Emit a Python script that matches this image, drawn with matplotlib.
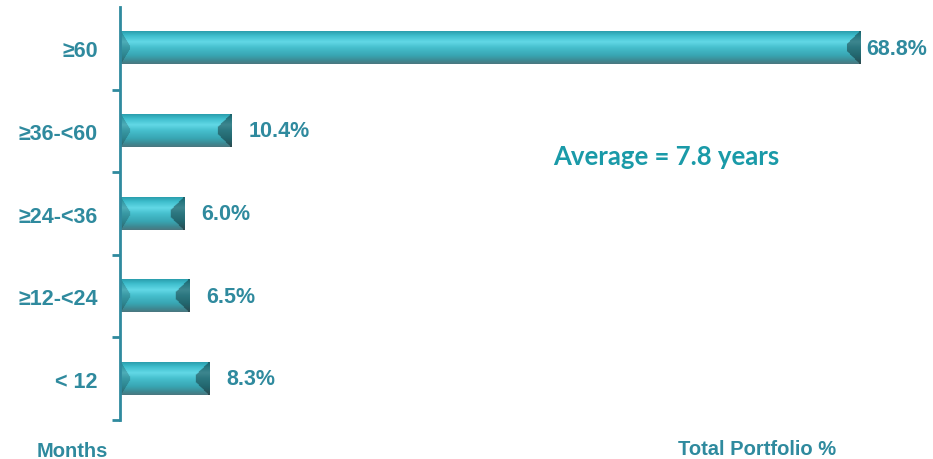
import numpy as np
import matplotlib
matplotlib.use("Agg")
import matplotlib.pyplot as plt
from matplotlib.colors import to_rgb

categories = ["≥60", "≥36-<60", "≥24-<36", "≥12-<24", "< 12"]
values = [68.8, 10.4, 6.0, 6.5, 8.3]
value_labels = ["68.8%", "10.4%", "6.0%", "6.5%", "8.3%"]
avg_text = "Average = 7.8 years"
x_title = "Total Portfolio %"
y_title = "Months"

TEXT = "#2f8a9e"
AVG = "#1a9aa8"

W, H = 933, 460
fig = plt.figure(figsize=(W / 100, H / 100), dpi=100)
left_px, right_px, top_px, bot_px = 120, 900, 8, 421
ax = fig.add_axes([left_px / W, 1 - bot_px / H, (right_px - left_px) / W, (bot_px - top_px) / H])
px_per_unit = 10.76

bar_h = 0.39
y = np.arange(len(categories))

# vertical colour profile (top -> bottom)
stops = [(0.0, "#2b9fae"), (0.12, "#3cbccb"), (0.32, "#62d8e6"), (0.5, "#46bfcd"),
         (0.75, "#38a5b2"), (0.9, "#3d8a94"), (1.0, "#4a7880")]

def profile(t):
    cs = np.array([to_rgb(c) for _, c in stops])
    ps = np.array([p for p, _ in stops])
    return np.stack([np.interp(t, ps, cs[:, k]) for k in range(3)], axis=-1)

ny = 40
vmax = max(values)
for yi, v, lab in zip(y, values, value_labels):
    wpx = int(v * px_per_unit)
    hpx = 32
    nx = max(wpx, 2)
    tt = np.linspace(0, 1, ny)
    col = profile(tt)
    img = np.repeat(col[:, None, :], nx, axis=1)
    xs = np.arange(nx)
    bevel = 14
    for j in range(ny):
        frac = tt[j]
        d = min(frac, 1 - frac) * hpx
        edge = nx - min(bevel, d + 2)
        mask = xs >= edge
        img[j, mask] = img[j, mask] * 0.62
        ledge = min(10, d * 0.6 + 1)
        lm = xs < ledge
        img[j, lm] = img[j, lm] * 0.8
    ax.imshow(img, extent=[0, v, yi + bar_h / 2, yi - bar_h / 2], aspect="auto",
              interpolation="bilinear", zorder=2)
    off = 4.5 if v == vmax else 12
    ax.annotate(lab, (v, yi), xytext=(off, 0), textcoords="offset points",
                va="center", ha="left", fontsize=15.5, fontweight="bold", color=TEXT,
                family="Liberation Sans")

ax.set_xlim(0, (right_px - left_px) / px_per_unit)
ax.set_ylim(4.5, -0.5)

for s in ["top", "right", "bottom"]:
    ax.spines[s].set_visible(False)
ax.spines["left"].set_color(TEXT)
ax.spines["left"].set_linewidth(2)
ax.set_xticks([])
ax.set_yticks(y)
ax.set_yticklabels(categories, fontsize=15.5, fontweight="bold", color=TEXT, family="Liberation Sans")
ax.tick_params(axis="y", which="major", length=0, pad=16)
ax.set_yticks(np.arange(0.5, 5, 1), minor=True)
ax.tick_params(axis="y", which="minor", length=6, width=2, color=TEXT, direction="out")

fig.text(666 / W, 1 - 157 / H, avg_text, ha="center", va="center", fontsize=18.5,
         fontweight="bold", color=AVG, family="Lato")
fig.text(37 / W, 1 - 452 / H, y_title, ha="left", va="center", fontsize=14.5,
         fontweight="bold", color=TEXT, family="Liberation Sans")
fig.text(678 / W, 1 - 450 / H, x_title, ha="left", va="center", fontsize=14.5,
         fontweight="bold", color=TEXT, family="Liberation Sans")

fig.savefig("out.png", dpi=100)
